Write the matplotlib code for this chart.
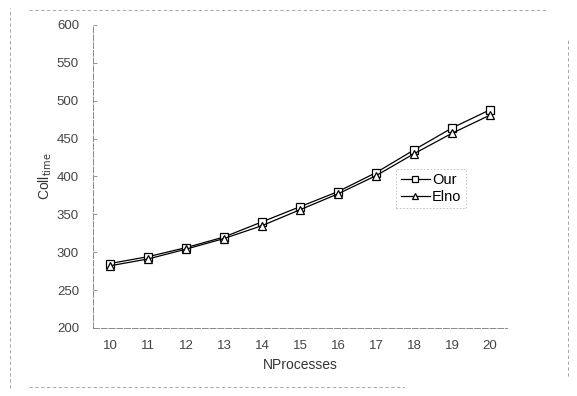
import matplotlib
matplotlib.use('Agg')
import matplotlib.pyplot as plt
from matplotlib.lines import Line2D

# ── Data ────────────────────────────────────────────────────────────────
n_processes = [10, 11, 12, 13, 14, 15, 16, 17, 18, 19, 20]
our_time    = [285, 294, 306, 320, 340, 360, 380, 405, 435, 464, 488]
elno_time   = [282, 291, 304, 318, 335, 356, 377, 401, 430, 457, 481]
y_ticks     = [200, 250, 300, 350, 400, 450, 500, 550, 600]
# ────────────────────────────────────────────────────────────────────────

plt.rcParams['font.family'] = ['Liberation Sans', 'DejaVu Sans']

fig = plt.figure(figsize=(5.77, 3.96), dpi=100)
ax  = fig.add_axes([0.161, 0.172, 0.718, 0.765])

ax.plot(n_processes, our_time, color='black', lw=0.9, marker='s', ms=5.5,
        mfc='white', mec='black', mew=0.9, label='Our')
ax.plot(n_processes, elno_time, color='black', lw=0.9, marker='^', ms=5.5,
        mfc='white', mec='black', mew=0.9, label='Elno')

ax.set_xlim(9.55, 20.45)
ax.set_ylim(200, 600)
ax.set_xticks(n_processes)
ax.set_yticks(y_ticks)

for s in ['top', 'right']:
    ax.spines[s].set_visible(False)
for s in ['left', 'bottom']:
    ax.spines[s].set_color('#888888')
    ax.spines[s].set_linewidth(0.7)
    ax.spines[s].set_linestyle((0, (6, 2)))

ax.tick_params(axis='x', length=0, pad=9, labelsize=9.5, colors='#444444')
ax.tick_params(axis='y', length=3, direction='in', width=0.6, color='#888888',
               pad=10, labelsize=9.5, labelcolor='#444444')

ax.set_xlabel('NProcesses', fontsize=10, color='#333333', labelpad=4)
ax.set_ylabel(r'Coll$_{\rm time}$', fontsize=10, color='#333333')
ax.yaxis.set_label_coords(-0.095, 0.5)

leg = ax.legend(loc='upper left', bbox_to_anchor=(0.715, 0.55), frameon=True,
                fontsize=10.5, handlelength=2.0, handletextpad=0.15,
                borderpad=0.3, labelspacing=0.2, fancybox=False,
                markerscale=0.75)
leg.get_frame().set_edgecolor('#aaaaaa')
leg.get_frame().set_linewidth(0.6)
leg.get_frame().set_linestyle((0, (2, 2)))

# faint scanned page border
border = dict(color='#999999', lw=0.6, ls=(0, (4, 3)), transform=fig.transFigure)
fig.add_artist(Line2D([0.018, 0.018], [0.02, 0.98], **border))
fig.add_artist(Line2D([0.985, 0.985], [0.05, 0.90], **border))
fig.add_artist(Line2D([0.05, 0.95], [0.975, 0.975], **border))
fig.add_artist(Line2D([0.05, 0.70], [0.022, 0.022], **border))

fig.savefig('out.png', dpi=100)
